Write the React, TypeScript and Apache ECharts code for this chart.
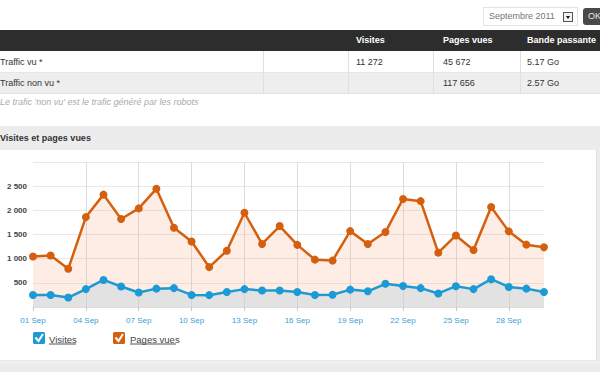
import React, { useEffect, useRef } from "react";
import * as echarts from "echarts";

const days = [
  "01 Sep", "02 Sep", "03 Sep", "04 Sep", "05 Sep", "06 Sep", "07 Sep", "08 Sep", "09 Sep", "10 Sep",
  "11 Sep", "12 Sep", "13 Sep", "14 Sep", "15 Sep", "16 Sep", "17 Sep", "18 Sep", "19 Sep", "20 Sep",
  "21 Sep", "22 Sep", "23 Sep", "24 Sep", "25 Sep", "26 Sep", "27 Sep", "28 Sep", "29 Sep", "30 Sep",
];
const pagesVues = [
  1045, 1065, 790, 1860, 2325, 1820, 2040, 2445, 1640, 1355,
  825, 1165, 1950, 1305, 1675, 1285, 980, 960, 1570, 1305,
  1550, 2235, 2190, 1125, 1480, 1180, 2070, 1565, 1290, 1235,
];
const visites = [
  250, 250, 195, 370, 560, 425, 300, 380, 390, 250,
  245, 310, 370, 340, 340, 310, 250, 255, 360, 325,
  480, 435, 390, 280, 430, 370, 575, 415, 380, 310,
];
const tableHeaders = ["Visites", "Pages vues", "Bande passante"];
const rowVu = ["Traffic vu *", "11 272", "45 672", "5.17 Go"];
const rowNonVu = ["Traffic non vu *", "", "117 656", "2.57 Go"];

const FONT = '"Liberation Sans", Arial, sans-serif';
const ORANGE = "#d4600f";
const BLUE = "#1b9ad6";

function fmt(v: number): string {
  if (v >= 1000) return Math.floor(v / 1000) + " " + String(v % 1000).padStart(3, "0");
  return String(v);
}

function Chart() {
  const ref = useRef<HTMLDivElement>(null);
  useEffect(() => {
    if (!ref.current) return;
    const chart = echarts.init(ref.current, undefined, { renderer: "svg" });
    chart.setOption({
      animation: false,
      textStyle: { fontFamily: FONT },
      grid: { left: 33, right: 53, top: 12, bottom: 53 },
      xAxis: {
        type: "category",
        data: days,
        boundaryGap: false,
        axisLine: { show: true, lineStyle: { color: "#dddddd", width: 1 } },
        axisTick: { show: true, interval: 2, length: 4, lineStyle: { color: "#c8c8c8" } },
        axisLabel: { interval: 2, color: "#3aa0d8", fontSize: 8, margin: 9, fontFamily: FONT },
        splitLine: {
          show: true,
          interval: (i: number) => i % 3 === 0 && i > 0,
          lineStyle: { color: "#dcdcdc", width: 1 },
        },
      },
      yAxis: {
        type: "value",
        min: 0,
        max: 3000,
        interval: 500,
        axisLine: { show: false },
        axisTick: { show: false },
        axisLabel: {
          color: "#444",
          fontSize: 8,
          fontWeight: "bold",
          margin: 6,
          fontFamily: FONT,
          formatter: (v: number) => (v === 0 || v === 3000 ? "" : fmt(v)),
        },
        splitLine: { show: true, lineStyle: { color: "#e8e8e8", width: 1 } },
      },
      series: [
        {
          name: "Pages vues",
          type: "line",
          data: pagesVues,
          symbol: "circle",
          symbolSize: 8,
          showSymbol: true,
          lineStyle: { color: ORANGE, width: 2.5 },
          itemStyle: { color: ORANGE },
          areaStyle: { color: "#f5a57a", opacity: 0.2 },
          z: 2,
        },
        {
          name: "Visites",
          type: "line",
          data: visites,
          symbol: "circle",
          symbolSize: 8,
          showSymbol: true,
          lineStyle: { color: BLUE, width: 2.5 },
          itemStyle: { color: BLUE },
          areaStyle: { color: "rgb(199,215,224)", opacity: 0.5 },
          z: 3,
        },
      ],
      graphic: [
        { type: "rect", shape: { x: 33, y: 182, width: 12, height: 12, r: 1.5 }, style: { fill: BLUE } },
        {
          type: "polyline",
          shape: { points: [[35.5, 187.5], [38.5, 191], [43, 184]] },
          style: { stroke: "#fff", lineWidth: 2, fill: null },
        },
        {
          type: "text",
          x: 49,
          y: 189.5,
          style: { text: "Visites", fill: "#444", fontSize: 9.5, fontFamily: FONT, verticalAlign: "middle" },
        },
        { type: "line", shape: { x1: 49, y1: 194, x2: 76, y2: 194 }, style: { stroke: "#555", lineWidth: 1 } },
        { type: "rect", shape: { x: 113, y: 182, width: 12, height: 12, r: 1.5 }, style: { fill: ORANGE } },
        {
          type: "polyline",
          shape: { points: [[115.5, 187.5], [118.5, 191], [123, 184]] },
          style: { stroke: "#fff", lineWidth: 2, fill: null },
        },
        {
          type: "text",
          x: 130,
          y: 189.5,
          style: { text: "Pages vues", fill: "#444", fontSize: 9.5, fontFamily: FONT, verticalAlign: "middle" },
        },
        { type: "line", shape: { x1: 130, y1: 194, x2: 176, y2: 194 }, style: { stroke: "#555", lineWidth: 1 } },
      ],
    });
    return () => chart.dispose();
  }, []);
  return <div ref={ref} style={{ position: "absolute", left: 0, top: 150, width: 597, height: 210 }} />;
}

const abs = (s: React.CSSProperties): React.CSSProperties => ({ position: "absolute", ...s });

export default function App() {
  const cellText = (text: string, left: number, top: number, h: number, extra: React.CSSProperties = {}) => (
    <div style={abs({ left, top, height: h, lineHeight: h + "px", fontSize: 9, whiteSpace: "nowrap", color: "#333", ...extra })}>
      {text}
    </div>
  );
  const colX = [0, 356, 443, 527];
  return (
    <div style={abs({ left: 0, top: 0, width: 600, height: 372, background: "#fff", overflow: "hidden", fontFamily: FONT })}>
      {/* month selector */}
      <div style={abs({ left: 483, top: 7, width: 93, height: 17, border: "1px solid #e2e2e2", background: "#fff" })}>
        <div style={abs({ left: 5, top: 0, lineHeight: "17px", fontSize: 9, color: "#777", whiteSpace: "nowrap" })}>Septembre 2011</div>
        <div style={abs({ left: 79, top: 4, width: 8, height: 8, border: "1px solid #555", background: "#f2f2f2" })}>
          <div style={abs({ left: 1.5, top: 2.5, width: 0, height: 0, borderLeft: "2.5px solid transparent", borderRight: "2.5px solid transparent", borderTop: "3px solid #111" })} />
        </div>
      </div>
      <div style={abs({ left: 583, top: 8, width: 30, height: 17, background: "#4a4a4a", borderRadius: 3, color: "#e8e8e8", fontSize: 9, lineHeight: "17px", paddingLeft: 5, boxSizing: "border-box" })}>OK</div>

      {/* table */}
      <div style={abs({ left: 0, top: 30, width: 600, height: 21, background: "#2d2d2d" })} />
      {tableHeaders.map((h, i) => cellText(h, colX[i + 1], 30, 21, { color: "#fff", fontWeight: "bold" }))}
      <div style={abs({ left: 0, top: 51, width: 600, height: 22, background: "#fff", borderBottom: "1px solid #e6e6e6", boxSizing: "border-box" })} />
      <div style={abs({ left: 0, top: 73, width: 600, height: 21, background: "#eeeeee", borderBottom: "1px solid #e2e2e2", boxSizing: "border-box" })} />
      {[263, 348, 433, 520].map((x) => (
        <div key={x} style={abs({ left: x, top: 51, width: 1, height: 43, background: "#e0e0e0" })} />
      ))}
      {rowVu.map((t, i) => cellText(t, colX[i], 51, 22))}
      {rowNonVu.map((t, i) => cellText(t, colX[i], 73, 21))}
      {cellText("Le trafic 'non vu' est le trafic généré par les robots", 0, 95, 14, { color: "#aaa", fontStyle: "italic" })}

      {/* chart section */}
      <div style={abs({ left: 0, top: 126, width: 600, height: 246, background: "#ececec" })} />
      {cellText("Visites et pages vues", 0, 127, 23, { fontWeight: "bold", color: "#333" })}
      <div style={abs({ left: 0, top: 150, width: 597, height: 210, background: "#fff", borderRight: "1px solid #e0e0e0", boxSizing: "border-box" })} />
      <div style={abs({ left: 0, top: 362, width: 600, height: 1, background: "#f6f6f6" })} />
      <Chart />
    </div>
  );
}
